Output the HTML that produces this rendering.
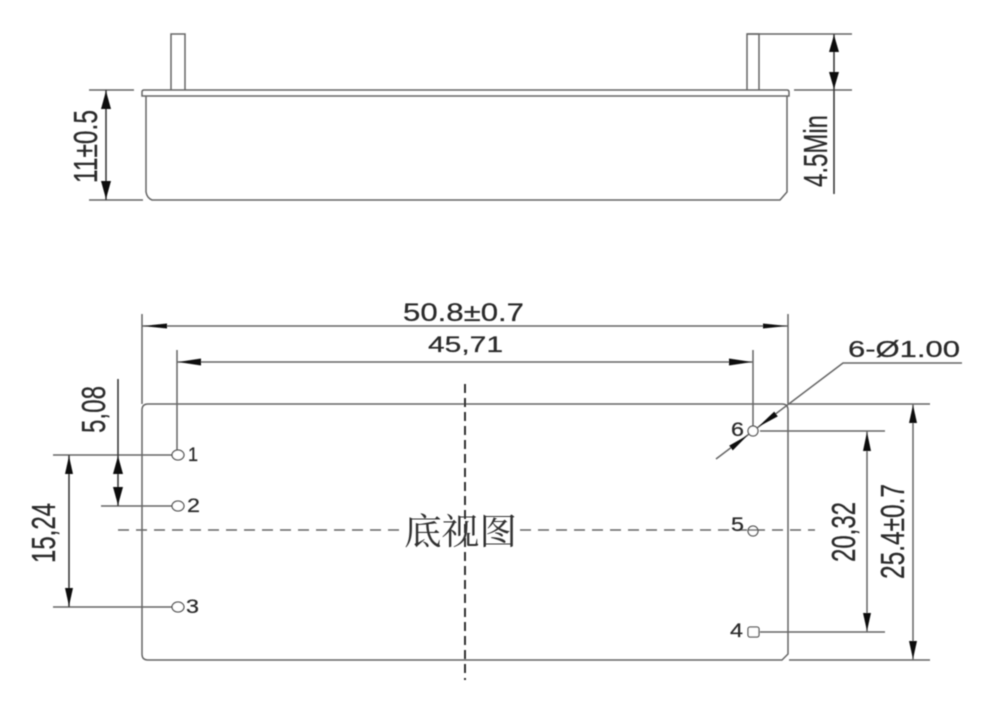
<!DOCTYPE html>
<html><head><meta charset="utf-8"><style>
html,body{margin:0;padding:0;background:#fff;width:1000px;height:712px;overflow:hidden}
svg{display:block}
text{font-family:"Liberation Sans","Noto Sans CJK SC",sans-serif;fill:#2a2a2a;stroke:#2a2a2a;stroke-width:.25}
.l{stroke:#666;stroke-width:1.5;fill:none}
.d{stroke:#333;stroke-width:1.5;fill:none}
.a{fill:#111;stroke:none}
</style></head><body>
<svg width="1000" height="712" viewBox="0 0 1000 712" xmlns="http://www.w3.org/2000/svg">
<defs><filter id="b" filterUnits="userSpaceOnUse" x="0" y="0" width="1000" height="712"><feGaussianBlur stdDeviation="0.4"/></filter></defs>
<rect width="1000" height="712" fill="#fff"/>
<g filter="url(#b)">
<!-- top view -->
<path class="l" d="M171 90V34H185V90M747 90V34H759V90"/>
<path class="l" d="M144 90H787Q789 90 789 92V96H142V92Q142 90 144 90Z"/>
<path class="l" d="M146 96V192Q147 198 152 200H780L787 192V96"/>
<path class="l" d="M89 90H134M89 200H143"/>
<path class="d" d="M106 90V200"/>
<polygon class="a" points="106,91 101,109 111,109"/>
<polygon class="a" points="106,199 101,181 111,181"/>
<text transform="translate(97,183) rotate(-90)" font-size="33" textLength="73" lengthAdjust="spacingAndGlyphs">11±0.5</text>
<path class="l" d="M747 34H852M794 90H852"/>
<path class="d" d="M834 34V194"/>
<polygon class="a" points="834,35 829,52 839,52"/>
<polygon class="a" points="834,89 829,72 839,72"/>
<text transform="translate(827,187) rotate(-90)" font-size="33" textLength="72" lengthAdjust="spacingAndGlyphs">4.5Min</text>
<!-- bottom view -->
<path class="l" d="M148 404H782Q788 404 788 410V654L782 660H148Q142 660 142 654V410Q142 404 148 404Z"/>
<path class="l" d="M142 314V404M788 314V404M177 350V455M753 350V431"/>
<path class="l" d="M142 326H788M177 362H753"/>
<polygon class="a" points="143,326 167,323.500 167,328.500"/>
<polygon class="a" points="787,326 763,323.500 763,328.500"/>
<polygon class="a" points="178,362 201,358.500 201,365.500"/>
<polygon class="a" points="752,362 729,358.500 729,365.500"/>
<text x="403" y="321" font-size="25" textLength="121" lengthAdjust="spacingAndGlyphs">50.8±0.7</text>
<text x="428" y="352" font-size="22" textLength="75" lengthAdjust="spacingAndGlyphs">45,71</text>
<!-- center lines -->
<path d="M465 384V680" fill="none" stroke="#333" stroke-width="2" stroke-dasharray="9 5"/>
<path class="l" d="M118 530H402M520 530H815" stroke-dasharray="11 7"/>
<text x="404" y="544" font-size="36" textLength="113" lengthAdjust="spacingAndGlyphs" style="font-family:'Noto Serif CJK SC',serif;stroke:none;fill:#333">底视图</text>
<!-- left dims -->
<path class="l" d="M53 455H172M101 506H172M53 607H172"/>
<path class="d" d="M118 379V506M69 455V607"/>
<polygon class="a" points="118,456 113,474 123,474"/>
<polygon class="a" points="118,505 113,487 123,487"/>
<polygon class="a" points="69,456 65,474 73,474"/>
<polygon class="a" points="69,606 65,588 73,588"/>
<text transform="translate(105,433) rotate(-90)" font-size="33" textLength="47" lengthAdjust="spacingAndGlyphs">5,08</text>
<text transform="translate(55,563) rotate(-90)" font-size="33" textLength="60" lengthAdjust="spacingAndGlyphs">15,24</text>
<!-- right dims -->
<path class="l" d="M788 404H930M760 431H885M760 632H885M789 660H930"/>
<path class="l" d="M867 431V632M913 404V660"/>
<polygon class="a" points="867,432 863,451 871,451"/>
<polygon class="a" points="867,631 863,613 871,613"/>
<polygon class="a" points="913,405 909,423 917,423"/>
<polygon class="a" points="913,659 909,641 917,641"/>
<text transform="translate(855,562) rotate(-90)" font-size="33" textLength="60" lengthAdjust="spacingAndGlyphs">20,32</text>
<text transform="translate(904,579) rotate(-90)" font-size="33" textLength="95" lengthAdjust="spacingAndGlyphs">25.4±0.7</text>
<!-- leader -->
<path class="l" d="M716 459L843 363H962"/>
<polygon class="a" points="758,427 777.800,416.400 774.200,411.600"/>
<polygon class="a" points="748,435 732.800,450.400 729.200,445.600"/>
<text x="848" y="357" font-size="23" textLength="112" lengthAdjust="spacingAndGlyphs">6-Ø1.00</text>
<!-- holes -->
<ellipse cx="178" cy="455" rx="6" ry="5" fill="#fff" stroke="#555" stroke-width="1.300"/>
<ellipse cx="178" cy="506" rx="6" ry="5" fill="#fff" stroke="#555" stroke-width="1.300"/>
<ellipse cx="178" cy="607" rx="6" ry="5" fill="#fff" stroke="#555" stroke-width="1.300"/>
<circle cx="753" cy="431" r="5" fill="#fff" stroke="#555" stroke-width="1.300"/>
<circle cx="753" cy="531" r="5" fill="#fff" stroke="#555" stroke-width="1.300"/>
<path class="l" d="M748 530H758"/>
<rect x="748" y="627" width="11" height="10" rx="2" fill="#fff" stroke="#555" stroke-width="1.300"/>
<text x="188" y="461" font-size="19" textLength="10" lengthAdjust="spacingAndGlyphs">1</text>
<text x="187" y="512" font-size="19" textLength="13" lengthAdjust="spacingAndGlyphs">2</text>
<text x="186" y="613" font-size="19" textLength="13" lengthAdjust="spacingAndGlyphs">3</text>
<text x="731" y="436" font-size="19" textLength="13" lengthAdjust="spacingAndGlyphs">6</text>
<text x="731" y="531" font-size="19" textLength="13" lengthAdjust="spacingAndGlyphs">5</text>
<text x="730" y="637" font-size="19" textLength="13" lengthAdjust="spacingAndGlyphs">4</text>
</g>
</svg>
</body></html>
